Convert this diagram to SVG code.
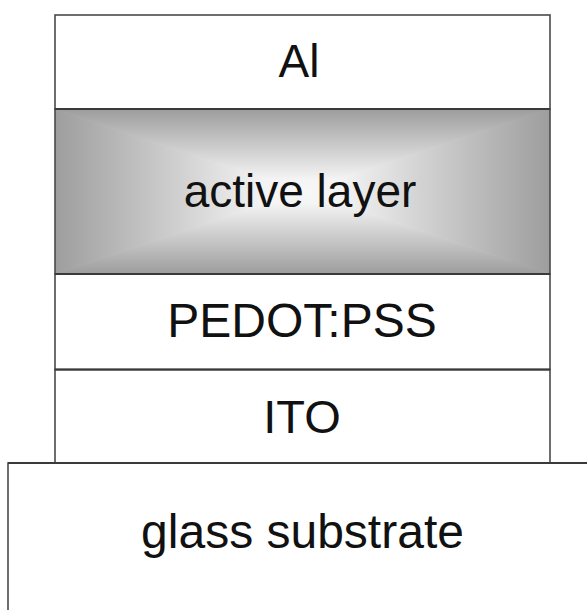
<svg xmlns="http://www.w3.org/2000/svg" width="587" height="610" viewBox="0 0 587 610">
  <style>
    .layer { fill: #ffffff; stroke: #4a4a4a; stroke-width: 1.6; }
    .sep { stroke: #3a3a3a; stroke-width: 2.2; fill: none; }
    .label { font-family: "Liberation Sans", Arial, sans-serif; font-size: 46px; fill: #111111; text-anchor: middle; }
    .big { font-size: 48px; }
  </style>
  <defs>
    <!-- box gradient pieces: dark at each edge, fading to white at the centre -->
    <linearGradient id="gTop" gradientUnits="userSpaceOnUse" x1="0" y1="110" x2="0" y2="191.5">
      <stop offset="0" stop-color="#9e9e9e"/>
      <stop offset="0.85" stop-color="#f4f4f4"/>
      <stop offset="1" stop-color="#f7f7f7"/>
    </linearGradient>
    <linearGradient id="gBottom" gradientUnits="userSpaceOnUse" x1="0" y1="273" x2="0" y2="191.5">
      <stop offset="0" stop-color="#9e9e9e"/>
      <stop offset="0.85" stop-color="#f4f4f4"/>
      <stop offset="1" stop-color="#f7f7f7"/>
    </linearGradient>
    <linearGradient id="gLeft" gradientUnits="userSpaceOnUse" x1="56" y1="0" x2="302.5" y2="0">
      <stop offset="0" stop-color="#9e9e9e"/>
      <stop offset="0.85" stop-color="#f4f4f4"/>
      <stop offset="1" stop-color="#f7f7f7"/>
    </linearGradient>
    <linearGradient id="gRight" gradientUnits="userSpaceOnUse" x1="549" y1="0" x2="302.5" y2="0">
      <stop offset="0" stop-color="#9e9e9e"/>
      <stop offset="0.85" stop-color="#f4f4f4"/>
      <stop offset="1" stop-color="#f7f7f7"/>
    </linearGradient>
    <clipPath id="activeClip">
      <rect x="55" y="109" width="495" height="165"/>
    </clipPath>
  </defs>

  <!-- glass substrate (runs off the right and bottom edges) -->
  <g id="glass">
    <rect class="layer" x="8" y="463" width="600" height="160"/>
    <text class="label big" x="302.5" y="548">glass substrate</text>
  </g>

  <!-- ITO -->
  <g id="ito">
    <rect class="layer" x="55" y="369.5" width="495" height="93.5"/>
    <text class="label" x="302" y="433" style="font-size:47px">ITO</text>
  </g>

  <!-- PEDOT:PSS -->
  <g id="pedot">
    <rect class="layer" x="55" y="274" width="495" height="95.5"/>
    <text class="label big" x="302" y="337">PEDOT:PSS</text>
  </g>

  <!-- active layer with a rectangular centre-out gradient -->
  <g id="active">
    <g clip-path="url(#activeClip)">
      <!-- left/right pieces are stroked in their own fill so the diagonal seams close up -->
      <polygon points="55,109 55,274 302.5,191.5" fill="url(#gLeft)" stroke="url(#gLeft)" stroke-width="1.2"/>
      <polygon points="550,109 550,274 302.5,191.5" fill="url(#gRight)" stroke="url(#gRight)" stroke-width="1.2"/>
      <polygon points="55,109 550,109 302.5,191.5" fill="url(#gTop)"/>
      <polygon points="55,274 550,274 302.5,191.5" fill="url(#gBottom)"/>
    </g>
    <rect x="55" y="109" width="495" height="165" fill="none" stroke="#4a4a4a" stroke-width="1.6"/>
    <text class="label" x="300" y="207">active layer</text>
  </g>

  <!-- Al electrode -->
  <g id="al">
    <rect class="layer" x="55" y="15" width="495" height="94"/>
    <text class="label" x="299" y="77">Al</text>
  </g>

  <!-- heavier separators between the stacked films -->
  <g id="separators">
    <line class="sep" x1="55" y1="109" x2="550" y2="109"/>
    <line class="sep" x1="55" y1="274" x2="550" y2="274"/>
    <line class="sep" x1="55" y1="369.5" x2="550" y2="369.5"/>
    <line class="sep" x1="8" y1="463" x2="587" y2="463"/>
  </g>
</svg>
